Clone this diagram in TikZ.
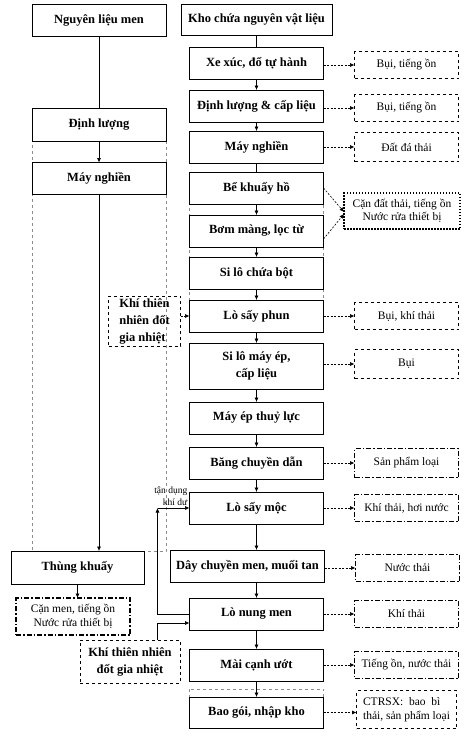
\documentclass[tikz,border=0pt]{standalone}
\usepackage{fontspec}
\setmainfont{Liberation Serif}
\usetikzlibrary{positioning, arrows.meta, backgrounds}

\begin{document}
\begin{tikzpicture}[
		x=1pt, y=1pt,
		node distance=12pt,
		stage/.style={rectangle, draw, line width=0.7pt, outer sep=0pt, minimum width=134pt, minimum height=32pt, align=center, inner sep=1pt, font=\bfseries\fontsize{12.5}{17}\selectfont},
		waste/.style={rectangle, draw, line width=0.6pt, outer sep=0pt, dashed, minimum width=104pt, minimum height=27pt, align=center, inner sep=1pt, font=\fontsize{11.5}{13.5}\selectfont},
		wastedd/.style={waste, line width=1.3pt, dash pattern=on 5pt off 2pt on 1.5pt off 2pt},
		wastedot/.style={waste, line width=1.3pt, dash pattern=on 1.5pt off 1.5pt},
		fuel/.style={rectangle, draw, line width=0.6pt, outer sep=0pt, dashed, align=left, inner sep=2pt, font=\bfseries\fontsize{12.5}{17}\selectfont},
		group/.style={draw=black!45, dashed, line width=0.5pt},
		arrow/.style={line width=0.6pt, -{Latex[length=4.5pt, width=4pt]}},
		link/.style={line width=0.6pt},
		dasharrow/.style={line width=0.6pt, dashed, dash pattern=on 2pt off 1.5pt, -{Latex[length=4.5pt, width=4pt]}}
		]
		\useasboundingbox (0,0) rectangle (469,-736);
		
		% Main line
		\node (kho) [stage, minimum width=151pt, minimum height=31pt] at (256.5,-19.5) {Kho chứa nguyên vật liệu};
		\node (xexuc) [stage, below=12pt of kho] {Xe xúc, đổ tự hành};
		\node (dlcl) [stage, below=11pt of xexuc] {Định lượng \& cấp liệu};
		\node (mnr) [stage, below=9pt of dlcl] {Máy nghiền};
		\node (bkh) [stage, below=9pt of mnr] {Bể khuấy hồ};
		\node (bmlt) [stage, below=11pt of bkh] {Bơm màng, lọc từ};
		\node (slcb) [stage, below=10pt of bmlt] {Si lô chứa bột};
		\node (lsp) [stage, below=11pt of slcb] {Lò sấy phun};
		\node (slme) [stage, below=11pt of lsp, minimum height=46pt] {Si lô máy ép,\\cấp liệu};
		\node (metl) [stage, below=13pt of slme] {Máy ép thuỷ lực};
		\node (bcd) [stage, below=13pt of metl] {Băng chuyền dẫn};
		\node (lsm) [stage, below=13pt of bcd] {Lò sấy mộc};
		\node (dcm) [stage, below=26pt of lsm, xshift=-9pt, minimum width=154pt] {Dây chuyền men, muối tan};
		\node (lnm) [stage, below=16pt of dcm, xshift=9pt] {Lò nung men};
		\node (mcu) [stage, below=19pt of lnm] {Mài cạnh ướt};
		\node (bgnk) [stage, below=16pt of mcu, minimum height=31pt] {Bao gói, nhập kho};
		
		% Left line
		\node (nlm) [stage] at (99,-20.5) {Nguyên liệu men};
		\node (dlm) [stage, below=72pt of nlm, minimum height=33pt] {Định lượng};
		\node (mnm) [stage, below=21pt of dlm] {Máy nghiền};
		\node (tkh) [stage, minimum width=133pt, minimum height=33pt] at (77.5,-567.5) {Thùng khuấy};
		\node (cmen) [wastedd, minimum width=114pt, minimum height=37pt] at (73,-616.5) {Cặn men, tiếng ồn\\Nước rửa thiết bị};
		
		% Fuel
		\node (ktn1) [fuel, minimum width=72pt, minimum height=50pt, left=9pt of lsp, yshift=-5pt] {Khí thiên\\nhiên đốt\\gia nhiệt};
		\node (ktn2) [fuel, align=center, minimum width=100pt, minimum height=43pt] at (130,-661.5) {Khí thiên nhiên\\đốt gia nhiệt};
		
		% Waste
		\node (w1) [waste, right=31pt of xexuc, yshift=-2pt] {Bụi, tiếng ồn};
		\node (w2) [waste, right=31pt of dlcl, yshift=-2pt] {Bụi, tiếng ồn};
		\node (w3) [waste, right=31pt of mnr, minimum height=29pt] {Đất đá thải};
		\node (w4) [wastedot, minimum width=116pt, minimum height=36pt] at (402,-211) {Cặn đất thải, tiếng ồn\\Nước rửa thiết bị};
		\node (w5) [waste, right=31pt of lsp] {Bụi, khí thải};
		\node (w6) [waste, right=31pt of slme, minimum height=29pt, yshift=2pt] {Bụi};
		\node (w7) [wastedd, right=31pt of bcd, minimum height=29pt] {Sản phẩm loại};
		\node (w8) [wastedd, right=31pt of lsm] {Khí thải, hơi nước};
		\node (w9) [wastedd, right=31pt of dcm, yshift=-2pt] {Nước thải};
		\node (w10) [wastedd, right=31pt of lnm] {Khí thải};
		\node (w11) [wastedd, right=31pt of mcu] {Tiếng ồn, nước thải};
		\node (w12) [waste, right=33pt of bgnk, minimum width=100pt, minimum height=38pt, yshift=3pt, align=left] {CTRSX:~~bao~~bì\\thải, sản phẩm loại};
		
		% Groups
		\begin{scope}[on background layer]
			\draw [group] (dlm.north west) rectangle (dlm.east |- tkh.north);
			\draw [group] (bkh.north west) rectangle (slcb.east |- lsp.north);
			\draw [group] ([yshift=8pt]bgnk.north west) rectangle (bgnk.south east);
		\end{scope}
		
		% Arrows
		\draw [link] (kho) -- (xexuc);
		\draw [arrow] (xexuc) -- (dlcl);
		\draw [arrow] (dlcl) -- (mnr);
		\draw [link] (mnr) -- (bkh);
		\draw [arrow] (bkh) -- (bmlt);
		\draw [arrow] (bmlt) -- (slcb);
		\draw [arrow] (slcb) -- (lsp);
		\draw [arrow] (lsp) -- (slme);
		\draw [arrow] (slme) -- (metl);
		\draw [arrow] (metl) -- (bcd);
		\draw [arrow] (bcd) -- (lsm);
		\draw [arrow] (lsm) -- (lsm.south |- dcm.north);
		\draw [arrow] (lnm.north |- dcm.south) -- (lnm);
		\draw [arrow] (lnm) -- (mcu);
		\draw [arrow] (mcu) -- (bgnk);
		
		\draw [link] (nlm) -- (dlm);
		\draw [arrow] (dlm) -- (mnm);
		\draw [arrow] (mnm) -- (mnm.south |- tkh.north);
		\draw [arrow] (tkh.south) -- (tkh.south |- cmen.north);
		
		% Fuel and recirculated heat
		\draw [dasharrow] (lsp.west -| ktn1.east) -- (lsp.west);
		\coordinate (tdung) at ([xshift=-32pt]lsm.west);
		\draw [arrow] (lnm.west) -| (tdung);
		\draw [arrow] (tdung) -- (lsm.west);
		\node (tdl) [font=\fontsize{9.5}{12}\selectfont, align=right, anchor=south east, inner sep=0pt] at ([xshift=-2pt, yshift=2pt]lsm.west) {tận dụng\\khí dư};
		\draw [arrow] (ktn2.north -| tdung) |- ([yshift=-9pt]lnm.west);
		
		% Waste arrows
		\draw [dasharrow] (xexuc.east |- w1) -- (w1);
		\draw [dasharrow] (dlcl.east |- w2) -- (w2);
		\draw [dasharrow] (mnr) -- (w3);
		\draw [dasharrow] (bkh.east) -- ([yshift=-1pt]w4.west);
		\draw [dasharrow] ([yshift=-8pt]bmlt.east) -- ([yshift=-3pt]w4.west);
		\draw [dasharrow] (lsp) -- (w5);
		\draw [dasharrow] (slme.east |- w6) -- (w6);
		\draw [dasharrow] (bcd) -- (w7);
		\draw [dasharrow] (lsm) -- (w8);
		\draw [dasharrow] (dcm.east |- w9) -- (w9);
		\draw [dasharrow] (lnm) -- (w10);
		\draw [dasharrow] (mcu) -- (w11);
		\draw [dasharrow] (bgnk) -- (bgnk -| w12.west);
		
	\end{tikzpicture}
\end{document}
